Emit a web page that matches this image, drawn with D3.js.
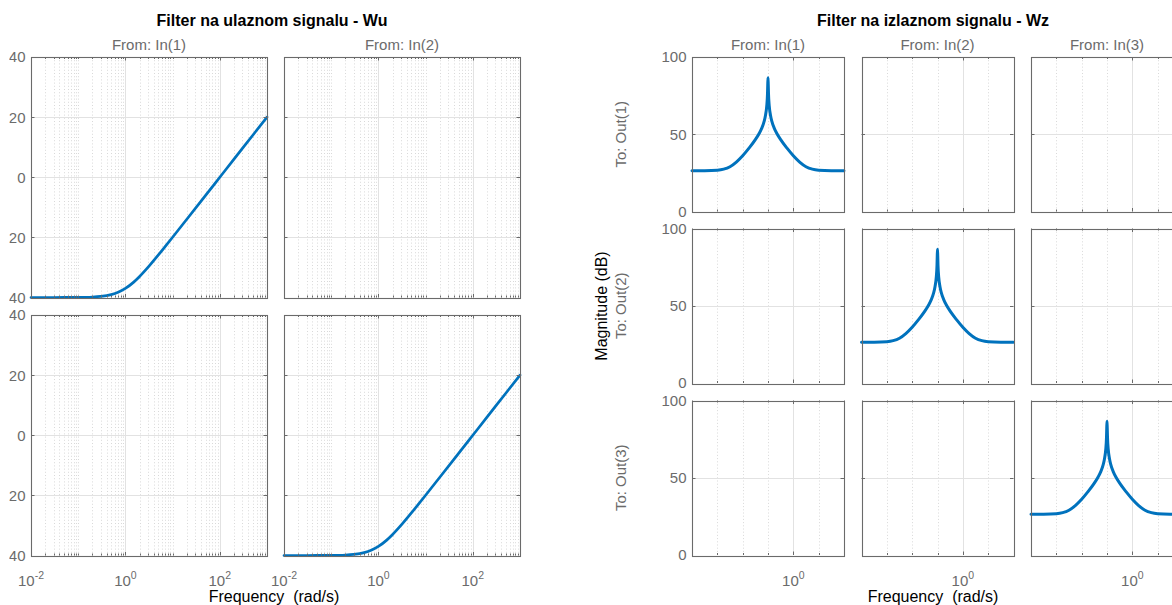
<!DOCTYPE html>
<html><head><meta charset="utf-8">
<script src="https://cdn.jsdelivr.net/npm/d3@7"></script>
<style>
body{margin:0;background:#fff}
svg{display:block}
text{font-family:"Liberation Sans",Arial,Helvetica,sans-serif;white-space:pre}
</style>
</head><body>
<svg id="c" width="1172" height="605"></svg>
<script>
// ---------- data ----------
const wuTitle = "Filter na ulaznom signalu - Wu";
const wzTitle = "Filter na izlaznom signalu - Wz";
const wuInputs = ["In(1)", "In(2)"];
const wzInputs = ["In(1)", "In(2)", "In(3)"];
const wzOutputs = ["Out(1)", "Out(2)", "Out(3)"];
const xLabel = "Frequency  (rad/s)";
const yLabel = "Magnitude (dB)";

// Wu diagonal response (rad/s, dB)
const wuFreq = [0.01, 0.02, 0.05, 0.1, 0.2, 0.3, 0.5, 0.7, 1, 1.5, 2, 3, 5, 7, 10, 20, 50, 100, 200, 500, 1000];
const wuMag  = [-40.0, -40.0, -39.99, -39.96, -39.83, -39.62, -39.03, -38.27, -36.99, -34.89, -33.01, -30.0, -25.85, -23.0, -19.96, -13.97, -6.02, 0.0, 6.02, 13.98, 20.0];

// Wz diagonal response (rad/s, dB)
const wzFreq = [1e-4, 3.16e-4, 1e-3, 1.78e-3, 3.16e-3, 5.62e-3, 0.01, 0.0178, 0.0316, 0.0447, 0.0562, 0.0708, 0.0794, 0.0891, 0.0955, 0.0977,
                0.1,
                0.1023, 0.1047, 0.1122, 0.1259, 0.1413, 0.1778, 0.2239, 0.3162, 0.5623, 1, 1.778, 3.162, 5.623, 10, 31.62, 100];
const wzMag  = [26.4, 26.44, 26.74, 27.4, 29.0, 32.0, 36.1, 41.0, 46.5, 50.5, 53.8, 58.5, 62.2, 68.2, 76.2, 82.1,
                86.6,
                82.1, 76.2, 68.2, 62.2, 58.5, 53.8, 50.5, 46.5, 41.0, 36.1, 32.0, 29.0, 27.4, 26.74, 26.44, 26.4];

const wuXDomain = [1e-2, 1e3];
const wuYDomain = [-40, 40];
const wuXTicks = [1e-2, 1, 1e2];
const wuXTickExp = ["-2", "0", "2"];
const wuYTicks = [-40, -20, 0, 20, 40];

const wzXDomain = [1e-4, 1e2];
const wzYDomain = [0, 100];
const wzXTicks = [1];
const wzXTickExp = ["0"];
const wzYTicks = [0, 50, 100];

// ---------- drawing ----------
const svg = d3.select("#c");
const defs = svg.append("defs");
const FONT_TICK = 15;
const GRAY_TXT = "#6b6b6b";
const BOX = "#6a6a6a";
const CURVE = "#0072BD";
let clipId = 0;

function minorLog(domain, full) {
  const out = [];
  const d0 = Math.floor(Math.log10(domain[0])), d1 = Math.ceil(Math.log10(domain[1]));
  for (let d = d0; d <= d1; d++) {
    const ks = full ? [1,2,3,4,5,6,7,8,9] : [1];
    ks.forEach(k => {
      const v = k * Math.pow(10, d);
      if (v >= domain[0] * 0.999 && v <= domain[1] * 1.001) out.push(v);
    });
  }
  return out;
}

function drawPanel(g, x0, y0, w, h, cfg, curve) {
  const xs = d3.scaleLog().domain(cfg.xDomain).range([x0, x0 + w]);
  const ys = d3.scaleLinear().domain(cfg.yDomain).range([y0 + h, y0]);
  const isMajor = v => cfg.xTicks.some(t => Math.abs(Math.log10(t) - Math.log10(v)) < 1e-6);
  const minors = minorLog(cfg.xDomain, cfg.fullMinor).filter(v => !isMajor(v));
  const px = v => Math.round(xs(v)) + 0.5;
  const py = v => Math.round(ys(v)) + 0.5;

  // minor vertical grid
  g.append("g").selectAll("line").data(minors.filter(v => xs(v) > x0 + 1 && xs(v) < x0 + w - 1)).join("line")
    .attr("x1", px).attr("x2", px).attr("y1", y0).attr("y2", y0 + h)
    .attr("stroke", "#cfcfcf").attr("stroke-width", 0.8).attr("stroke-dasharray", "1 2.2");
  // major grid
  const majX = cfg.xTicks.filter(v => v > cfg.xDomain[0] * 1.001 && v < cfg.xDomain[1] * 0.999);
  g.append("g").selectAll("line").data(majX).join("line")
    .attr("x1", px).attr("x2", px).attr("y1", y0).attr("y2", y0 + h)
    .attr("stroke", "#e2e2e2").attr("stroke-width", 1);
  const majY = cfg.yTicks.filter(v => v > cfg.yDomain[0] && v < cfg.yDomain[1]);
  g.append("g").selectAll("line").data(majY).join("line")
    .attr("x1", x0).attr("x2", x0 + w).attr("y1", py).attr("y2", py)
    .attr("stroke", "#e2e2e2").attr("stroke-width", 1);

  // curve
  if (curve) {
    const id = "clip" + (clipId++);
    defs.append("clipPath").attr("id", id).append("rect")
      .attr("x", x0 - 2).attr("y", y0 - 2).attr("width", w + 4).attr("height", h + 4);
    const line = d3.line().x(d => xs(d[0])).y(d => ys(d[1])).curve(d3.curveMonotoneX);
    g.append("path").datum(d3.zip(curve.f, curve.m))
      .attr("clip-path", `url(#${id})`)
      .attr("d", line).attr("fill", "none").attr("stroke", CURVE)
      .attr("stroke-width", curve.width).attr("stroke-linejoin", "round").attr("stroke-linecap", "round");
  }

  // tick marks (inward, mirrored)
  const tk = g.append("g").attr("stroke", BOX).attr("stroke-width", 1);
  majX.forEach(v => {
    tk.append("line").attr("x1", px(v)).attr("x2", px(v)).attr("y1", y0 + h).attr("y2", y0 + h - 3.5);
    tk.append("line").attr("x1", px(v)).attr("x2", px(v)).attr("y1", y0).attr("y2", y0 + 3.5);
  });
  minors.forEach(v => {
    tk.append("line").attr("x1", px(v)).attr("x2", px(v)).attr("y1", y0 + h).attr("y2", y0 + h - 2);
    tk.append("line").attr("x1", px(v)).attr("x2", px(v)).attr("y1", y0).attr("y2", y0 + 2);
  });
  majY.forEach(v => {
    tk.append("line").attr("x1", x0).attr("x2", x0 + 3.5).attr("y1", py(v)).attr("y2", py(v));
    tk.append("line").attr("x1", x0 + w).attr("x2", x0 + w - 3.5).attr("y1", py(v)).attr("y2", py(v));
  });

  // box
  g.append("rect").attr("x", Math.round(x0) + 0.5).attr("y", Math.round(y0) + 0.5)
    .attr("width", Math.round(w)).attr("height", Math.round(h))
    .attr("fill", "none").attr("stroke", BOX).attr("stroke-width", 1.1);
  return {xs, ys};
}

function yTickLabels(g, x0, ys, ticks) {
  g.selectAll("text.yt").data(ticks).join("text").attr("class", "yt")
    .attr("x", x0 - 5.5).attr("y", d => ys(d)).attr("dy", "0.36em")
    .attr("text-anchor", "end").attr("font-size", FONT_TICK).attr("fill", GRAY_TXT)
    .text(d => d3.format("")(d));
}

function xTickLabels(g, xs, ticks, exps, y) {
  ticks.forEach((t, i) => {
    const tx = g.append("text").attr("x", xs(t)).attr("y", y)
      .attr("text-anchor", "middle").attr("font-size", FONT_TICK).attr("fill", GRAY_TXT);
    tx.append("tspan").text("10");
    tx.append("tspan").attr("dy", -7).attr("font-size", 10.5).text(exps[i]);
  });
}

// ===== Left figure: Wu (2x2) =====
const L = svg.append("g");
const lCols = [31, 284], lW = 236;
const lRows = [57, 315], lH = 240.5;
const wuCfg = {xDomain: wuXDomain, yDomain: wuYDomain, xTicks: wuXTicks, yTicks: wuYTicks, fullMinor: true};
// the reference figure is cropped at its left edge, hiding the minus signs
defs.append("clipPath").attr("id", "leftcrop").append("rect").attr("x", 9.3).attr("y", 0).attr("width", 600).attr("height", 605);
const lLabels = L.append("g").attr("clip-path", "url(#leftcrop)");
lRows.forEach((ry, r) => {
  lCols.forEach((cx, c) => {
    const curve = r === c ? {f: wuFreq, m: wuMag, width: 2.7} : null;
    const s = drawPanel(L, cx, ry, lW, lH, wuCfg, curve);
    if (c === 0) yTickLabels(lLabels.append("g"), cx, s.ys, wuYTicks);
    if (r === lRows.length - 1) xTickLabels(L, s.xs, wuXTicks, wuXTickExp, 586);
  });
});
wuInputs.forEach((lab, c) => {
  L.append("text").attr("x", lCols[c] + lW / 2).attr("y", 50).attr("text-anchor", "middle")
    .attr("font-size", 15).attr("fill", GRAY_TXT).text("From: " + lab);
});
L.append("text").attr("x", 272).attr("y", 26).attr("text-anchor", "middle")
  .attr("font-size", 16).attr("font-weight", "bold").attr("fill", "#000").text(wuTitle);
L.append("text").attr("x", 274).attr("y", 602).attr("text-anchor", "middle")
  .attr("font-size", 16).attr("fill", "#000").text(xLabel);

// ===== Right figure: Wz (3x3) =====
const R = svg.append("g");
const rCols = [692, 861.5, 1031], rW = 152;
const rRows = [57, 228.5, 400.5], rH = 154.5;
const wzCfg = {xDomain: wzXDomain, yDomain: wzYDomain, xTicks: wzXTicks, yTicks: wzYTicks, fullMinor: false};
rRows.forEach((ry, r) => {
  rCols.forEach((cx, c) => {
    const curve = r === c ? {f: wzFreq, m: wzMag, width: 3} : null;
    const s = drawPanel(R, cx, ry, rW, rH, wzCfg, curve);
    if (c === 0) yTickLabels(R.append("g"), cx, s.ys, wzYTicks);
    if (r === rRows.length - 1) xTickLabels(R, s.xs, wzXTicks, wzXTickExp, 586);
  });
  R.append("text").attr("transform", `translate(626,${ry + rH / 2}) rotate(-90)`)
    .attr("text-anchor", "middle").attr("font-size", 15).attr("fill", GRAY_TXT)
    .text("To: " + wzOutputs[r]);
});
wzInputs.forEach((lab, c) => {
  R.append("text").attr("x", rCols[c] + rW / 2).attr("y", 50).attr("text-anchor", "middle")
    .attr("font-size", 15).attr("fill", GRAY_TXT).text("From: " + lab);
});
R.append("text").attr("x", 933).attr("y", 26).attr("text-anchor", "middle")
  .attr("font-size", 16).attr("font-weight", "bold").attr("fill", "#000").text(wzTitle);
R.append("text").attr("x", 933).attr("y", 602).attr("text-anchor", "middle")
  .attr("font-size", 16).attr("fill", "#000").text(xLabel);
R.append("text").attr("transform", `translate(607,306) rotate(-90)`)
  .attr("text-anchor", "middle").attr("font-size", 16).attr("fill", "#000").text(yLabel);
</script>
</body></html>
